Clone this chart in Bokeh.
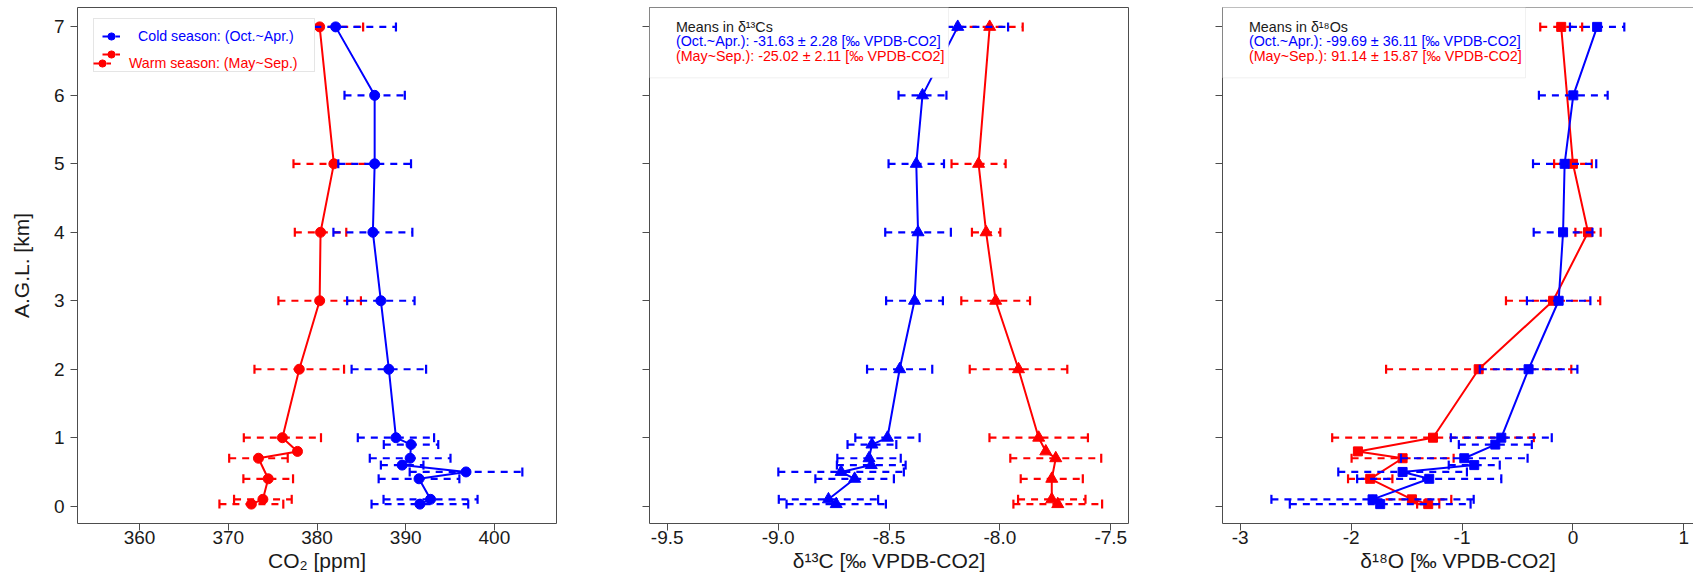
import numpy as np
from bokeh.plotting import figure
from bokeh.models import (Range1d, FixedTicker, Label, BoxAnnotation, Legend,
                          LegendItem, ColumnDataSource, Span)
from bokeh.layouts import row
from bokeh.embed import file_html
from bokeh.resources import INLINE

# ---------------- data ----------------
alt_cold = [0.03, 0.1, 0.4, 0.5, 0.6, 0.7, 0.9, 1.0, 2, 3, 4, 5, 6, 7]
alt_warm = [0.03, 0.1, 0.4, 0.7, 0.8, 1.0, 2, 3, 4, 5, 7]

co2_cold = [391.6, 392.8, 391.5, 396.8, 389.6, 390.5, 390.6, 388.9, 388.1, 387.2, 386.3, 386.5, 386.5, 382.1]
co2_cold_sd = [5.45, 5.3, 4.55, 6.35, 2.4, 4.55, 3.07, 4.3, 4.2, 3.8, 4.45, 4.1, 3.4, 6.8]
co2_warm = [372.6, 373.9, 374.5, 373.4, 377.8, 376.1, 378.0, 380.3, 380.4, 381.9, 380.3]
co2_warm_sd = [3.6, 3.25, 2.8, 3.3, np.nan, 4.35, 5.05, 4.65, 2.9, 4.55, 4.9]

d13c_cold = [-8.738, -8.773, -8.655, -8.716, -8.58, -8.59, -8.577, -8.507, -8.452, -8.385, -8.369, -8.377, -8.349, -8.19]
d13c_cold_sd = [0.224, 0.224, 0.177, 0.283, 0.155, 0.143, 0.11, 0.145, 0.147, 0.128, 0.148, 0.125, 0.108, 0.227]
d13c_warm = [-7.739, -7.766, -7.766, -7.748, -7.793, -7.825, -7.916, -8.019, -8.062, -8.096, -8.046]
d13c_warm_sd = [0.2, 0.152, 0.14, 0.205, np.nan, 0.222, 0.22, 0.155, 0.064, 0.122, 0.149]

d18o_cold = [-1.738, -1.807, -1.296, -1.536, -0.89, -0.98, -0.70, -0.646, -0.40, -0.129, -0.089, -0.075, 0.003, 0.218]
d18o_cold_sd = [0.815, 0.912, 0.65, 0.58, 0.23, 0.571, 0.329, 0.455, 0.44, 0.286, 0.265, 0.285, 0.31, 0.245]
d18o_warm = [-1.305, -1.452, -1.828, -1.536, -1.939, -1.262, -0.85, -0.179, 0.136, 0.0, -0.106]
d18o_warm_sd = [0.10, 0.355, 0.2, 0.46, np.nan, 0.909, 0.835, 0.425, 0.114, 0.17, 0.189]

y_ticks = [0, 1, 2, 3, 4, 5, 6, 7]
co2_ticks = [360, 370, 380, 390, 400]
co2_tick_labels = ["360", "370", "380", "390", "400"]
d13c_ticks = [-9.5, -9.0, -8.5, -8.0, -7.5]
d13c_tick_labels = ["-9.5", "-9.0", "-8.5", "-8.0", "-7.5"]
d18o_ticks = [-3, -2, -1, 0, 1]
d18o_tick_labels = ["-3", "-2", "-1", "0", "1"]

y_title = "A.G.L. [km]"
co2_title = "CO\u2082 [ppm]"
d13c_title = "\u03b4\u00b9\u00b3C [\u2030 VPDB-CO2]"
d18o_title = "\u03b4\u00b9\u2078O [\u2030 VPDB-CO2]"

legend_cold = "Cold season: (Oct.~Apr.)"
legend_warm = "Warm season: (May~Sep.)"
d13c_box = ["Means in \u03b4\u00b9\u00b3Cs",
            "(Oct.~Apr.): -31.63 \u00b1 2.28 [\u2030 VPDB-CO2]",
            "(May~Sep.): -25.02 \u00b1 2.11 [\u2030 VPDB-CO2]"]
d18o_box = ["Means in \u03b4\u00b9\u2078Os",
            "(Oct.~Apr.): -99.69 \u00b1 36.11 [\u2030 VPDB-CO2]",
            "(May~Sep.): 91.14 \u00b1 15.87 [\u2030 VPDB-CO2]"]

# ---------------- style ----------------
FONT = "Liberation Sans"
BLUE = "#0000FF"
RED = "#FF0000"
FRAME = "#4d4d4d"
TXT = "#1a1a1a"
FH = 516
Y0, Y1 = -0.253, 7.283


def make_fig(xr, bl, br, fw, ticks, labels, xtitle, ytitle=None, outline=True):
    p = figure(frame_width=fw, frame_height=FH, x_range=Range1d(*xr), y_range=Range1d(Y0, Y1),
               output_backend="svg", toolbar_location=None,
               min_border_left=bl, min_border_right=br, min_border_top=7, min_border_bottom=55)
    p.grid.visible = False
    p.background_fill_color = "white"
    p.border_fill_color = "white"
    p.xaxis.ticker = FixedTicker(ticks=ticks, minor_ticks=[])
    p.xaxis.major_label_overrides = {t: l for t, l in zip(ticks, labels)}
    p.yaxis.ticker = FixedTicker(ticks=y_ticks, minor_ticks=[])
    for ax in (p.xaxis[0], p.yaxis[0]):
        ax.major_tick_line_color = FRAME
        ax.major_tick_line_width = 1
        ax.major_tick_out = 7
        ax.major_tick_in = 0
        ax.minor_tick_line_color = None
        ax.major_label_text_font = FONT
        ax.major_label_text_font_size = "19px"
        ax.major_label_text_color = TXT
        ax.axis_line_color = None if outline else FRAME
        ax.axis_label_text_font = FONT
        ax.axis_label_text_font_size = "21px"
        ax.axis_label_text_font_style = "normal"
        ax.axis_label_text_color = TXT
    p.xaxis.major_label_standoff = 0
    p.xaxis.axis_label = xtitle
    p.xaxis.axis_label_standoff = 2
    p.yaxis.major_label_standoff = 6
    if ytitle:
        p.yaxis.axis_label = ytitle
        p.yaxis.axis_label_standoff = 18
    else:
        p.yaxis.major_label_text_font_size = "0px"
        p.yaxis.major_label_text_color = None
    if outline:
        p.outline_line_color = FRAME
        p.outline_line_width = 1
    else:
        p.outline_line_color = None
        p.add_layout(Span(location=Y1, dimension="width", line_color=FRAME, line_width=1))
    return p


def draw(p, alts, means, sds, color, marker, size):
    m = np.array(means, dtype=float)
    s = np.array(sds, dtype=float)
    src = ColumnDataSource(dict(y=np.array(alts, dtype=float), x=m, lo=m - s, hi=m + s))
    seg = p.segment(x0="lo", y0="y", x1="hi", y1="y", source=src, line_color=color,
                    line_width=2.2, line_dash="7 6")
    for k in ("lo", "hi"):
        p.scatter(x=k, y="y", source=src, marker="dash", angle=np.pi / 2, size=9,
                  line_color=color, line_width=2.2)
    p.line(x="x", y="y", source=src, line_color=color, line_width=2)
    pts = p.scatter(x="x", y="y", source=src, marker=marker, size=size,
                    fill_color=color, line_color=color)
    return seg, pts


def text_box(p, right, lines):
    p.add_layout(BoxAnnotation(left=0, right=right, top=FH, bottom=FH - 70.3,
                               left_units="screen", right_units="screen",
                               top_units="screen", bottom_units="screen",
                               fill_color="white", fill_alpha=1.0,
                               line_color="#d0d0d0", line_width=1))
    for txt, col, dy in zip(lines, [TXT, BLUE, RED], [19, 33.7, 48.5]):
        p.add_layout(Label(x=26.4, y=FH - dy, x_units="screen", y_units="screen", text=txt,
                           text_font=FONT, text_font_size="14.3px", text_color=col,
                           text_align="left", text_baseline="middle"))


# ---------------- panel 1 ----------------
p1 = make_fig((353, 407), 77, 46, 479, co2_ticks, co2_tick_labels, co2_title, y_title)
sw, pw = draw(p1, alt_warm, co2_warm, co2_warm_sd, RED, "circle", 10)
sc, pc = draw(p1, alt_cold, co2_cold, co2_cold_sd, BLUE, "circle", 10)

common = dict(location=(16, 451), margin=0, padding=8, spacing=0, glyph_width=18,
              glyph_height=18, label_height=18, label_width=168, label_standoff=18,
              label_text_font=FONT, label_text_font_size="14.2px")
legA = Legend(items=[LegendItem(label=legend_cold, renderers=[sc, pc]),
                     LegendItem(label=" ", renderers=[sw, pw])],
              label_text_color=BLUE, border_line_color="#cccccc", border_line_width=1,
              background_fill_color="white", background_fill_alpha=1.0, **common)
legB = Legend(items=[LegendItem(label=legend_warm, renderers=[sw, pw])],
              label_text_color=RED, border_line_color=None, background_fill_alpha=0.0,
              **common)
p1.add_layout(legA)
p1.add_layout(legB)

# ---------------- panel 2 ----------------
p2 = make_fig((-9.58, -7.42), 47, 47, 479, d13c_ticks, d13c_tick_labels, d13c_title)
draw(p2, alt_warm, d13c_warm, d13c_warm_sd, RED, "triangle", 12)
draw(p2, alt_cold, d13c_cold, d13c_cold_sd, BLUE, "triangle", 12)
text_box(p2, 299, d13c_box)

# ---------------- panel 3 ----------------
p3 = make_fig((-3.16, 1.087), 47, 0, 471, d18o_ticks, d18o_tick_labels, d18o_title, outline=False)
draw(p3, alt_warm, d18o_warm, d18o_warm_sd, RED, "square", 9)
draw(p3, alt_cold, d18o_cold, d18o_cold_sd, BLUE, "square", 9)
text_box(p3, 303, d18o_box)

layout = row(p1, p2, p3)
open("out.html", "w").write(file_html(layout, INLINE))
